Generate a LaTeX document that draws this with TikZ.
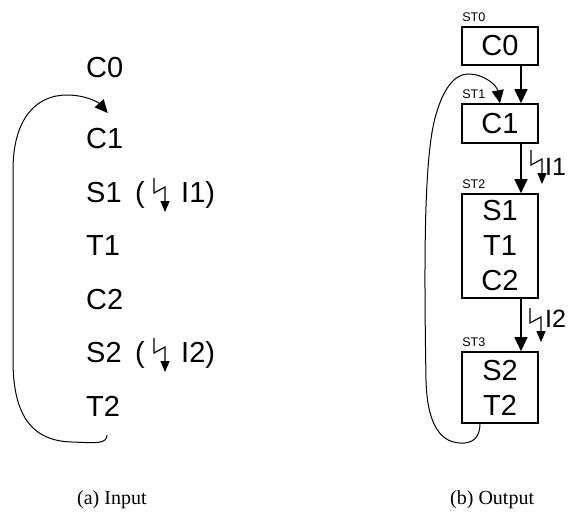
\documentclass[tikz,border=0pt]{standalone}
\usepackage{fontspec}
\setmainfont{Liberation Sans}
\newfontfamily\capfont{Liberation Serif}
\usetikzlibrary{arrows.meta,positioning}

\tikzset{
  word/.style={inner sep=0pt, anchor=base west, font=\fontsize{29}{35}\selectfont},
  stbox/.style={draw, line width=1.6pt, minimum width=76pt, inner sep=0pt,
    align=center, font=\fontsize{29}{35}\selectfont},
  stname/.style={inner sep=0pt, anchor=base west, font=\fontsize{12.5}{14}\selectfont},
  irqname/.style={inner sep=0pt, anchor=base west, font=\fontsize{25}{28}\selectfont},
  subcap/.style={inner sep=0pt, anchor=base west, font=\capfont\fontsize{20}{22}\selectfont},
  flow/.style={line width=1.2pt, -{Triangle[length=14pt,width=13pt]}},
  back/.style={line width=1pt, -{Triangle[length=13pt,width=12pt]}},
  irq/.style={line width=1.2pt, -{Triangle[length=11pt,width=9pt]}}
}
\newcommand{\zigzag}[1]{\draw[irq] (#1) -- ++(0,15) -- ++(11,-6) -- ++(0,25);}

\begin{document}
\begin{tikzpicture}[x=1pt,y=-1pt]
  \useasboundingbox (0,0) rectangle (568,512);

  % (a) input
  \foreach \n/\y in {C0/77,C1/148,S1/202,T1/255,C2/309,S2/362,T2/416}
    \node[word] (\n) at (86,\y) {\n};
  \node[word] (p1) at (135,202) {(};
  \node[word] (i1) at (181,202) {I1)};
  \node[word] (p2) at (135,362) {(};
  \node[word] (i2) at (181,362) {I2)};
  \coordinate (z1) at (154,178);
  \coordinate (z2) at (154,338);
  \zigzag{z1}
  \zigzag{z2}
  \draw[back] ([shift={(4,19)}]T2.base) .. controls (106,444) and (98,443) .. (72,442)
    .. controls (28,441) and (13,410) .. (13,360)
    -- (13,170)
    .. controls (13,120) and (35,95) .. (67,95)
    .. controls (85,95) and (98,102) .. ([shift={(3,-35)}]C1.base);
  \node[subcap] (capa) at (77,504) {(a) Input};

  % (b) output
  \node[stbox, minimum height=38pt] (st0) at (500,46) {C0};
  \node[stbox, minimum height=39pt] (st1) at (500,123.5) {C1};
  \node[stbox, minimum height=104pt] (st2) at (500,246) {S1\\T1\\C2};
  \node[stbox, minimum height=71pt] (st3) at (500,387.5) {S2\\T2};
  \foreach \s in {0,1,2,3}
    \node[stname] (l\s) at ([shift={(1,-5)}]st\s.north west) {ST\s};
  \draw[flow] ([xshift=21pt]st0.south) -- ([xshift=21pt]st1.north);
  \draw[flow] ([xshift=21pt]st1.south) -- ([xshift=21pt]st2.north);
  \draw[flow] ([xshift=21pt]st2.south) -- ([xshift=21pt]st3.north);
  \coordinate (z3) at (531,150);
  \coordinate (z4) at (530,308);
  \zigzag{z3}
  \zigzag{z4}
  \node[irqname] (r1) at (545,175) {I1};
  \node[irqname] (r2) at (545,327) {I2};
  \draw[back] ([xshift=-20pt]st3.south) .. controls (480,438) and (472,444) .. (460,443)
    .. controls (438,442) and (427,420) .. (426,380)
    .. controls (424,260) and (424,160) .. (435,118)
    .. controls (443,88) and (455,74) .. (468,74)
    .. controls (485,74) and (497,86) .. (st1.north);
  \node[subcap] (capb) at (450,504) {(b) Output};
\end{tikzpicture}
\end{document}
